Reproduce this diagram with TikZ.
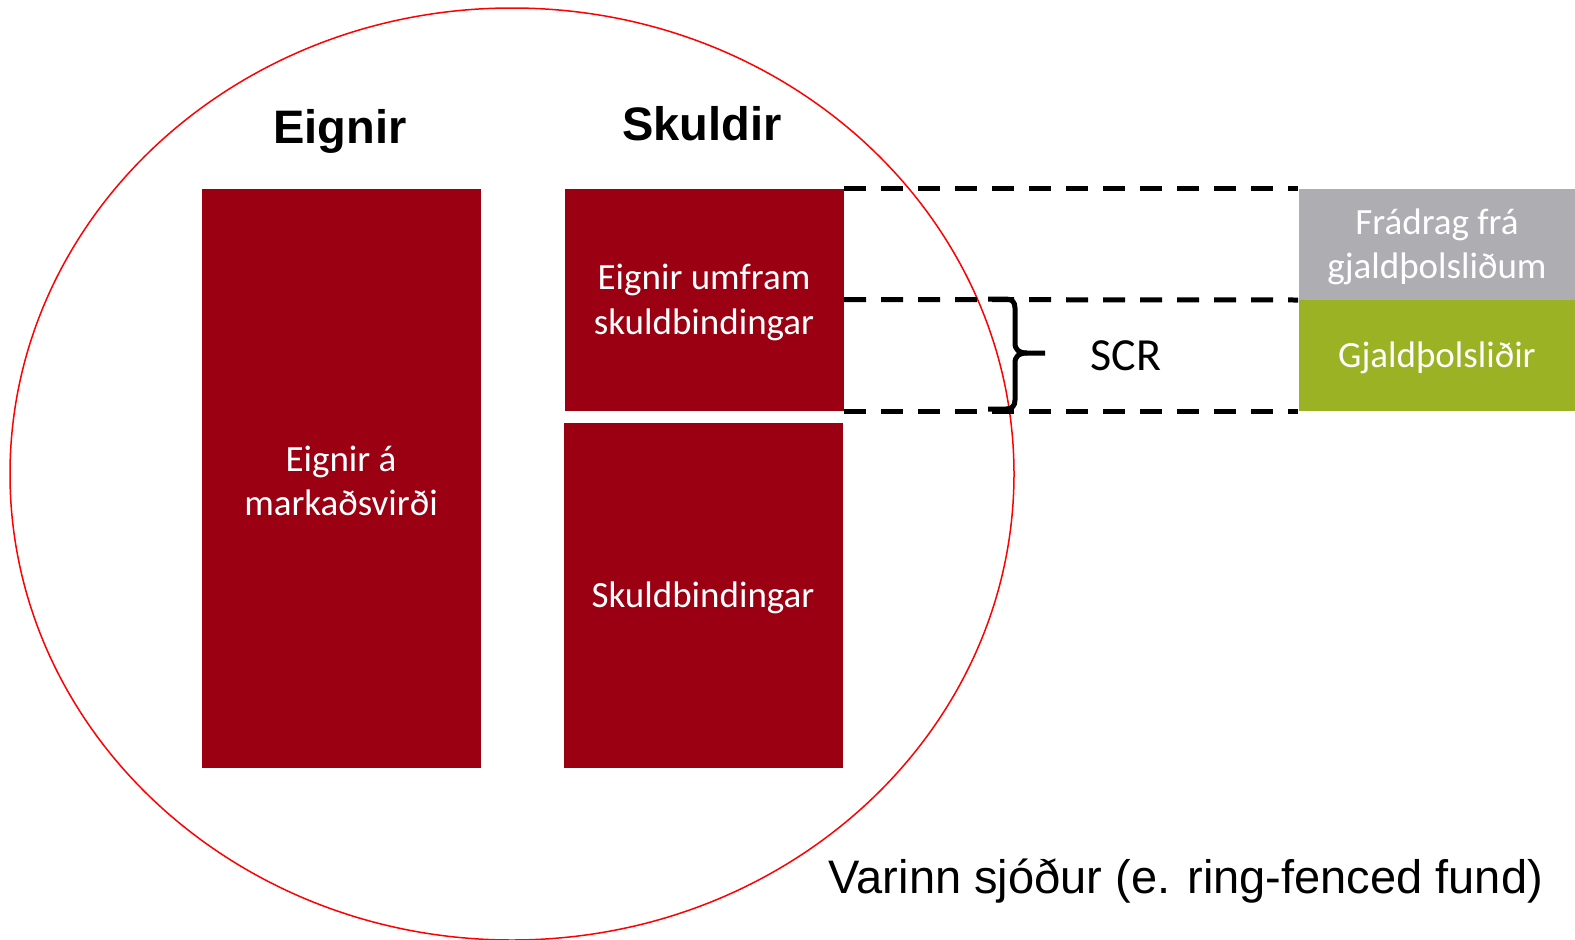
\documentclass[tikz,border=0pt]{standalone}
\usepackage{fontspec}
\setmainfont{Liberation Sans}
\newfontfamily\boxfont{Carlito}
\definecolor{fundred}{RGB}{154,0,18}
\definecolor{dedgray}{RGB}{174,173,178}
\definecolor{ownlime}{RGB}{154,178,36}
\tikzset{every picture/.style={line width=1pt}}
\tikzset{
  fillbox/.style={anchor=north west, inner sep=0pt},
  boxtext/.style={text=white, align=center, inner sep=0pt, yshift=-3pt,
    font=\boxfont\fontsize{37}{44.5}\selectfont},
  headtext/.style={font=\bfseries\fontsize{47}{52}\selectfont},
  levelline/.style={line width=5pt, dash pattern=on 22pt off 15pt},
}

\begin{document}
\begin{tikzpicture}[x=1pt,y=1pt,yscale=-1,xscale=1]
\useasboundingbox (0,0) rectangle (1575,940);

%Shape: Ellipse
\draw [color=red, line width=1.5pt] (512,474) ellipse [x radius=502, y radius=466];

%Shape: Rectangle
\node [fillbox, fill=fundred, minimum width=279pt, minimum height=579pt,
  label={[boxtext]center:{Eignir á\\markaðsvirði}}] (markad) at (201,188) {};
%Shape: Rectangle
\node [fillbox, fill=fundred, minimum width=279pt, minimum height=222pt,
  label={[boxtext]center:{Eignir umfram\\skuldbindingar}}] (umfram) at (564,188) {};
%Shape: Rectangle
\node [fillbox, fill=fundred, minimum width=279pt, minimum height=345pt,
  label={[boxtext]center:{Skuldbindingar}}] (skuld) at (563,422) {};
%Shape: Rectangle
\node [fillbox, fill=dedgray, minimum width=277pt, minimum height=111pt,
  label={[boxtext]center:{Frádrag frá\\gjaldþolsliðum}}] (fradrag) at (1298,188) {};
%Shape: Rectangle
\node [fillbox, fill=ownlime, minimum width=277pt, minimum height=111pt,
  label={[boxtext]center:{Gjaldþolsliðir}}] (gjald) at (1298,299) {};

%Straight Lines
\draw [levelline] (umfram.north east) -- (fradrag.north west);
%Straight Lines
\draw [levelline] (umfram.east) -- (fradrag.south west);
%Straight Lines
\draw [levelline] (umfram.south east) -- (gjald.south west);

%Curve Lines: brace
\coordinate (bracetop) at (988,299);
\coordinate (bracebot) at (988,409);
\coordinate (bracetip) at (1045,353);
\draw [line width=5pt, line join=round] (bracetop) -- (1006,299) .. controls (1012,299) and (1015,302) .. (1015,308) -- (1015,343) .. controls (1015,350) and (1019,353) .. (1027,353) -- (bracetip);
\draw [line width=5pt, line join=round] (bracebot) -- (1006,409) .. controls (1012,409) and (1015,406) .. (1015,400) -- (1015,363) .. controls (1015,356) and (1019,353) .. (1027,353);

% Text Node
\node [headtext] (eignir) at (340,131) {Eignir};
% Text Node
\node [headtext] (skuldir) at (702,124) {Skuldir};
% Text Node
\node [font=\boxfont\fontsize{46}{50}\selectfont] (scr) at (1126,356) {SCR};
% Text Node
\node [font=\fontsize{47}{52}\selectfont] (varinn) at (1186,881) {Varinn sjóður (e. ring-fenced fund)};

\end{tikzpicture}
\end{document}
